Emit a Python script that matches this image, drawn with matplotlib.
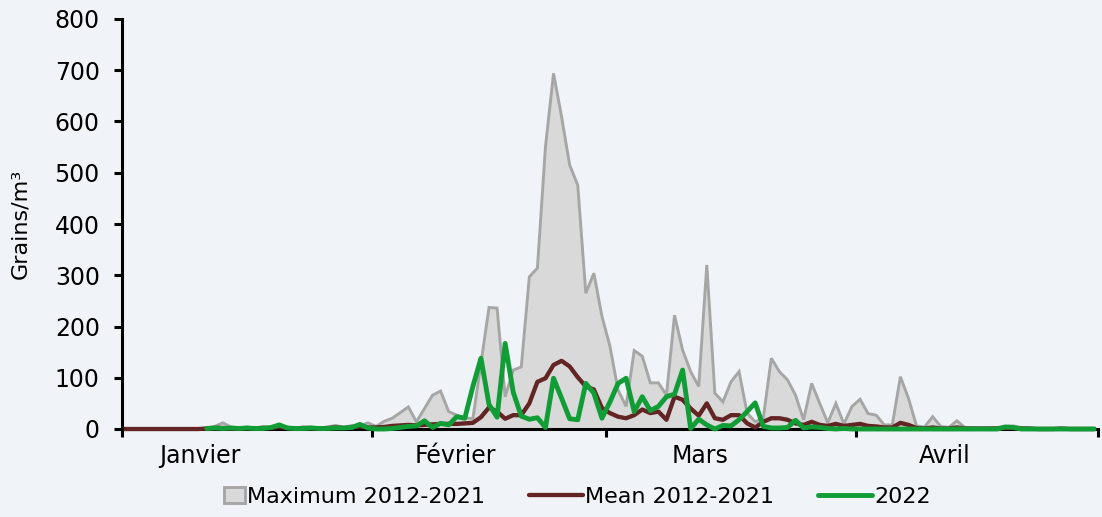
import numpy as np
import matplotlib
matplotlib.use("Agg")
import matplotlib.pyplot as plt
from matplotlib.patches import Rectangle
from matplotlib.legend_handler import HandlerPatch
from matplotlib.lines import Line2D

# Daily values, 1 January .. 30 April (121 days, February with 29 days)
max_2012_2021 = [
    0, 0, 0, 0, 0, 0, 0, 0, 0, 0,
    2, 5, 12, 4, 2, 3, 2, 5, 2, 6,
    3, 2, 4, 3, 2, 4, 7, 3, 7, 6, 12,
    5, 15, 21, 32, 43, 14, 40, 66, 74, 34,
    27, 22, 20, 128, 237, 236, 63, 115, 121, 297,
    314, 551, 694, 609, 515, 476, 265, 304, 220,
    161, 76, 44, 153, 142, 90, 90, 66, 222, 154,
    112, 83, 320, 70, 53, 92, 112, 31, 14, 21,
    138, 112, 96, 66, 18, 89, 50, 12, 50, 10, 44,
    58, 30, 27, 8, 8, 102, 60, 6, 4, 24,
    5, 3, 16, 3, 2, 1, 2, 3, 5, 6,
    3, 1, 1, 0, 0, 1, 0, 0, 0, 0,
]
mean_2012_2021 = [
    0, 0, 0, 0, 0, 0, 0, 0, 0, 0,
    1, 2, 2, 1, 1, 2, 1, 2, 2, 4,
    2, 1, 2, 2, 1, 2, 3, 2, 3, 5, 3,
    3, 4, 6, 7, 8, 7, 8, 9, 10, 10,
    10, 11, 12, 23, 42, 34, 20, 27, 27, 50,
    92, 99, 125, 133, 122, 101, 83, 77, 41,
    31, 24, 21, 27, 38, 31, 34, 18, 63, 57,
    40, 26, 50, 21, 18, 27, 27, 11, 3, 14,
    21, 21, 18, 11, 8, 14, 8, 6, 10, 6, 8,
    10, 6, 5, 3, 3, 12, 8, 2, 1, 3,
    1, 1, 3, 1, 1, 1, 1, 1, 2, 2,
    1, 1, 0, 0, 0, 1, 0, 0, 0, 0,
]
y2022 = [
    np.nan, np.nan, np.nan, np.nan, np.nan, np.nan, np.nan, np.nan, np.nan, np.nan,
    1, 2, 1, 2, 1, 2, 1, 1, 3, 8,
    2, 1, 1, 2, 1, 1, 2, 2, 3, 9, 2,
    0, 0, 1, 3, 5, 6, 16, 3, 11, 8,
    24, 21, 83, 138, 48, 23, 167, 72, 25, 19,
    22, 3, 99, 60, 20, 18, 89, 70, 21,
    53, 89, 99, 34, 63, 36, 44, 63, 68, 115,
    1, 19, 8, 0, 7, 6, 18, 34, 51, 5,
    2, 2, 3, 17, 2, 4, 3, 1, 0, 1, 0,
    0, 0, 0, 0, 0, 0, 0, 0, 0, 0,
    0, 0, 0, 0, 0, 0, 0, 0, 4, 3,
    0, 0, 0, 0, 0, 0, 0, 0, 0, 0,
]
month_labels = ["Janvier", "Février", "Mars", "Avril"]
month_days = [31, 29, 31, 30]
label_pos = [9.7, 41.3, 71.7, 102.0]
series_labels = ["Maximum 2012-2021", "Mean 2012-2021", "2022"]
y_ticks = [0, 100, 200, 300, 400, 500, 600, 700, 800]

BG = "#f0f4f9"
plt.rcParams["font.family"] = ["DejaVu Sans"]
FS = 17
LFS = 16

fig = plt.figure(figsize=(11.02, 5.17), dpi=100, facecolor=BG)
ax = fig.add_axes([122/1102, 88/517, 976/1102, 410/517], facecolor=BG)

n = len(max_2012_2021)
x = np.arange(n) + 0.5
mx = np.array(max_2012_2021, float)
mn = np.array(mean_2012_2021, float)
g = np.array(y2022, float)

ax.fill_between(x, 0, mx, facecolor="#d9d9d9", edgecolor="none", zorder=1)
ax.plot(x, mx, color="#a6a6a6", lw=2.1, zorder=2, solid_joinstyle="miter")
ax.plot(x, mn, color="#632523", lw=3.1, zorder=4, clip_on=False)
ax.plot(x, g, color="#109d36", lw=3.5, zorder=5, clip_on=False,
        solid_capstyle="round")

ax.set_xlim(0, n)
ax.set_ylim(0, 800)
ax.set_yticks(y_ticks)
ax.set_yticklabels([str(v) for v in y_ticks], fontsize=FS)
bounds = np.cumsum([0] + month_days)
ax.set_xticks(bounds)
ax.set_xticklabels([""] * len(bounds))
ax.set_xticks(label_pos, minor=True)
ax.set_xticklabels(month_labels, minor=True, fontsize=FS)
ax.tick_params(axis="x", which="major", direction="out", length=6, width=2.2, color="black")
ax.tick_params(axis="x", which="minor", length=0, pad=11)
ax.tick_params(axis="y", direction="out", length=6, width=2.2, pad=10, color="black")

for s in ["top", "right"]:
    ax.spines[s].set_visible(False)
for s in ["left", "bottom"]:
    ax.spines[s].set_linewidth(2.2)
    ax.spines[s].set_color("black")
ax.spines["bottom"].set_zorder(3)

ax.set_ylabel("Grains/m³", fontsize=LFS)
ax.yaxis.set_label_coords(-0.094, 0.5)


def square_patch(legend, orig_handle, xdescent, ydescent, width, height, fontsize):
    w = height * 1.3
    h = height * 1.05
    return Rectangle((-xdescent + width - w, -ydescent + (height - h) / 2), w, h)


handles = [
    Rectangle((0, 0), 1, 1, facecolor="#d9d9d9", edgecolor="#a6a6a6", lw=2.1),
    Line2D([], [], color="#632523", lw=3.1, solid_capstyle="round"),
    Line2D([], [], color="#109d36", lw=3.5, solid_capstyle="round"),
]
leg = fig.legend(handles, series_labels, loc="center", ncol=3,
                 bbox_to_anchor=(0.509, 0.039), frameon=False, fontsize=LFS,
                 handlelength=2.4, handletextpad=0.1, columnspacing=2.0,
                 handler_map={Rectangle: HandlerPatch(patch_func=square_patch)})

fig.savefig("out.png", dpi=100, facecolor=BG)
